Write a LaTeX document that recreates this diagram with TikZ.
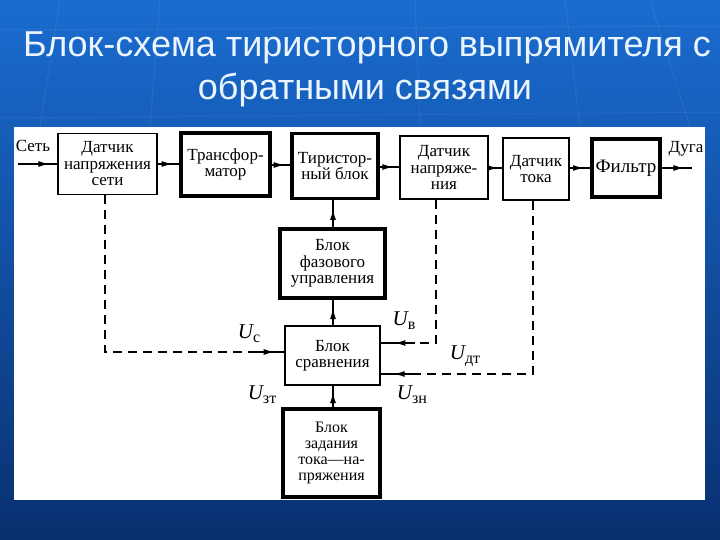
\documentclass[tikz,border=0pt]{standalone}
\usepackage{fontspec}
\setmainfont{Liberation Serif}
\newfontfamily\titlefont{Liberation Sans}
\newfontfamily\dgfont{Liberation Serif}
\usetikzlibrary{arrows.meta,decorations.markings}
\newcommand\Ulab[1]{{\dgfont\fontsize{21}{21}\selectfont\itshape U}\raisebox{-4pt}{\dgfont\fontsize{16}{16}\selectfont #1}}
\tikzset{
  blk/.style={draw=black, line width=1.5pt, fill=white, inner sep=0pt, align=center,
    font=\dgfont\fontsize{17}{16.5}\selectfont},
  thickblk/.style={blk, line width=3.8pt},
  conn/.style={draw=black, line width=1.5pt},
  fb/.style={draw=black, line width=1.5pt, dash pattern=on 9pt off 6pt},
  arr/.style={postaction={decorate}, decoration={markings,
    mark=at position #1 with {\arrow{Latex[length=11pt,width=6pt]}}}},
  lbl/.style={inner sep=0pt, font=\dgfont\fontsize{17}{17}\selectfont},
  ttl/.style={text={rgb,255:red,235;green,245;blue,255}, font=\titlefont\fontsize{36}{36}\selectfont, anchor=base, inner sep=0pt}
}
\begin{document}
\begin{tikzpicture}[x=1pt,y=-1pt]
\useasboundingbox (0,0) rectangle (720,540);
% background
\shade[top color={rgb,255:red,26;green,108;blue,208}, bottom color={rgb,255:red,9;green,48;blue,112}] (0,0) rectangle (720,540);
\foreach \xa/\xb in {60/40, 160/150, 415/420, 565/580, 650/690}
  \draw[white, opacity=0.07, line width=1pt] (\xa,0) -- (\xb,127);
\draw[white, opacity=0.06, line width=1pt] (0,118) -- (720,112);
\draw[white, opacity=0.06, line width=1pt] (0,30) -- (720,26);
% white panel
\fill[white] (14,127) rectangle (705,500);
% title
\node[ttl] (t1) at (367,57) {Блок-схема тиристорного выпрямителя с};
\node[ttl] (t2) at (365,100) {обратными связями};
% boxes
\node[blk, minimum width=99pt, minimum height=61pt] (b1) at (107.5,164) {Датчик\\напряжения\\сети};
\node[thickblk, minimum width=89pt, minimum height=63pt] (b2) at (225.5,164.5) {Трансфор-\\матор};
\node[thickblk, minimum width=86pt, minimum height=65pt] (b3) at (335,166) {Тиристор-\\ный блок};
\node[blk, minimum width=88pt, minimum height=63pt] (b4) at (444,167.5) {Датчик\\напряже-\\ния};
\node[blk, minimum width=66pt, minimum height=62pt] (b5) at (536,169) {Датчик\\тока};
\node[thickblk, minimum width=68pt, minimum height=58pt, font=\dgfont\fontsize{19}{19}\selectfont] (b6) at (626,168) {Фильтр};
\node[thickblk, minimum width=105pt, minimum height=69pt] (b7) at (332.5,263.5) {Блок\\фазового\\управления};
\node[blk, minimum width=95pt, minimum height=59pt] (b8) at (332.5,355.5) {Блок\\сравнения};
\node[thickblk, minimum width=97pt, minimum height=88pt, font=\dgfont\fontsize{16}{16}\selectfont] (b9) at (331.5,453) {Блок\\задания\\тока—на-\\пряжения};
% input/output
\coordinate (in) at (18,164);
\coordinate (out) at (692,168);
\node[lbl] (set) at (33,146) {Сеть};
\node[lbl] (duga) at (686,149) {Дуга};
% main line
\draw[conn, arr=0.8] (in) -- (in -| b1.west);
\draw[conn, arr=0.7] (b1.east) -- (b1.east -| b2.west);
\draw[conn, arr=0.7] (b2.east |- 0,165) -- (b3.west |- 0,165);
\draw[conn, arr=0.7] (b3.east |- 0,167) -- (b4.west |- 0,167);
\draw[conn, arr=0.7] (b4.east |- 0,168) -- (b5.west |- 0,168);
\draw[conn, arr=0.7] (b5.east |- 0,168) -- (b6.west |- 0,168);
\draw[conn, arr=0.75] (b6.east |- 0,168) -- (out);
% vertical links
\draw[conn, arr=0.68] (b7.north -| 333,0) -- (b3.south -| 333,0);
\draw[conn, arr=0.68] (b8.north -| 333,0) -- (b7.south -| 333,0);
\draw[conn, arr=0.7] (b9.north -| 333,0) -- (b8.south -| 333,0);
% feedback lines
\coordinate (c1) at (105,352);
\coordinate (c1e) at (257,352);
\draw[fb] (b1.south -| c1) -- (c1) -- (c1e);
\draw[conn, arr=0.65] (c1e) -- (c1e -| b8.west);
\coordinate (c2) at (436,343);
\coordinate (c2e) at (415,343);
\draw[fb] (b4.south -| c2) -- (c2) -- (c2e);
\draw[conn, arr=0.6] (c2e) -- (c2e -| b8.east);
\coordinate (c3) at (533,374);
\coordinate (c3e) at (413,374);
\draw[fb] (b5.south -| c3) -- (c3) -- (c3e);
\draw[conn, arr=0.6] (c3e) -- (c3e -| b8.east);
% labels
\node[inner sep=0pt] (uc) at (249,334) {\Ulab{с}};
\node[inner sep=0pt] (uv) at (404,321) {\Ulab{в}};
\node[inner sep=0pt] (udt) at (465,356) {\Ulab{дт}};
\node[inner sep=0pt] (uzt) at (262,395) {\Ulab{зт}};
\node[inner sep=0pt] (uzn) at (412,395) {\Ulab{зн}};
\end{tikzpicture}
\end{document}
